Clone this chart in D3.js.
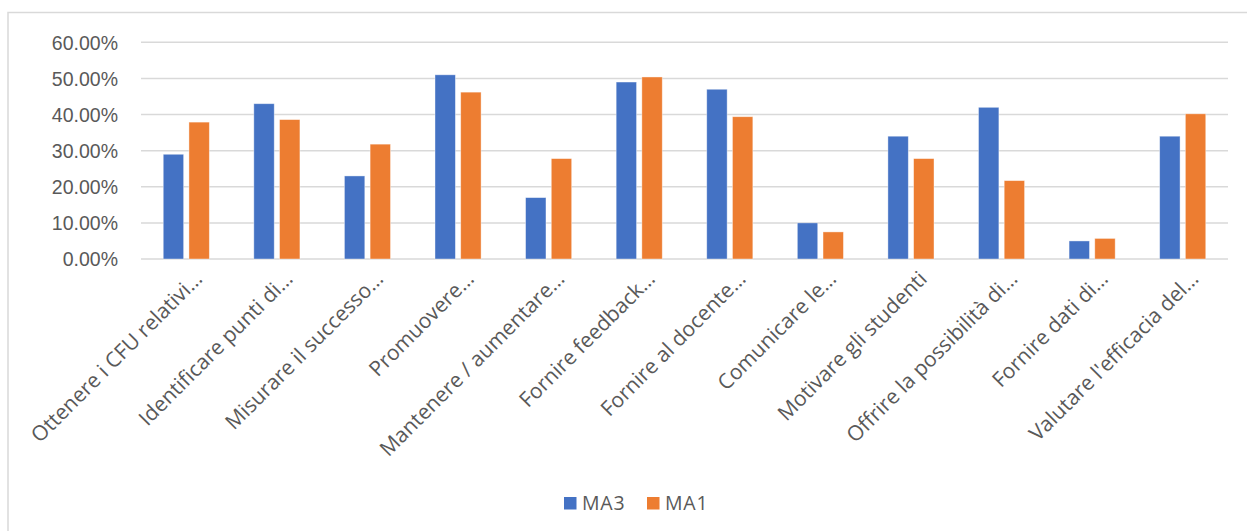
<!DOCTYPE html>
<html>
<head>
<meta charset="utf-8">
<script src="https://cdn.jsdelivr.net/npm/d3@7"></script>
<style>
  html, body { margin: 0; padding: 0; background: #fff; }
  svg { display: block; font-family: "Open Sans", "Noto Sans", sans-serif; }
</style>
</head>
<body>
<svg id="chart" width="1247" height="531"></svg>
<script>
// Category labels (already shortened with an ellipsis as shown on the axis)
const categories = [
  "Ottenere i CFU relativi…",
  "Identificare punti di…",
  "Misurare il successo…",
  "Promuovere…",
  "Mantenere / aumentare…",
  "Fornire feedback…",
  "Fornire al docente…",
  "Comunicare le…",
  "Motivare gli studenti",
  "Offrire la possibilità di…",
  "Fornire dati di…",
  "Valutare l'efficacia del…"
];

const seriesNames = ["MA3", "MA1"];
const ma3 = [0.29, 0.43, 0.23, 0.51, 0.17, 0.49, 0.47, 0.10, 0.34, 0.42, 0.05, 0.34];
const ma1 = [0.379, 0.386, 0.318, 0.462, 0.278, 0.504, 0.394, 0.075, 0.278, 0.217, 0.057, 0.402];
const yTicks = [0, 0.1, 0.2, 0.3, 0.4, 0.5, 0.6];
const colors = ["#4472C4", "#ED7D31"];

const svg = d3.select("#chart");

// outer chart frame
svg.append("rect")
  .attr("x", 8).attr("y", 12.5)
  .attr("width", 1260).attr("height", 540)
  .attr("fill", "none").attr("stroke", "#d9d9d9").attr("stroke-width", 1.5);

const plot = { left: 141, right: 1228, top: 42.3, bottom: 259 };

const x = d3.scaleBand().domain(categories).range([plot.left, plot.right]);
const y = d3.scaleLinear().domain([0, 0.6]).range([plot.bottom, plot.top]);

// horizontal gridlines
svg.append("g").selectAll("line").data(yTicks).join("line")
  .attr("x1", plot.left).attr("x2", plot.right)
  .attr("y1", d => y(d)).attr("y2", d => y(d))
  .attr("stroke", "#d9d9d9").attr("stroke-width", 1.5);

// y axis labels
const yAxis = d3.axisLeft(y).tickValues(yTicks).tickFormat(d3.format(".2%")).tickSize(0).tickPadding(0);
const yg = svg.append("g").attr("transform", `translate(118,0)`).call(yAxis);
yg.select(".domain").remove();
yg.selectAll("text")
  .attr("fill", "#595959")
  .style("font-size", "19.5px")
  .attr("dy", "0.35em");

// grouped bars
const barW = 20.4, gap = 5.3;
const data = [ma3, ma1];
data.forEach((vals, s) => {
  svg.append("g").selectAll("rect").data(vals).join("rect")
    .attr("x", (d, i) => x(categories[i]) + x.bandwidth() / 2 - (barW + gap / 2) + s * (barW + gap))
    .attr("y", d => y(d))
    .attr("width", barW)
    .attr("height", d => y(0) - y(d))
    .attr("fill", colors[s])
    .attr("stroke", "#ffffff").attr("stroke-opacity", 0.5).attr("stroke-width", 0.8);
});

// rotated category labels
svg.append("g").selectAll("text").data(categories).join("text")
  .attr("transform", d => `translate(${x(d) + x.bandwidth() / 2 + 12},${275}) rotate(-45)`)
  .attr("text-anchor", "end")
  .attr("dy", "0.35em")
  .attr("fill", "#595959")
  .style("font-size", "21px")
  .text(d => d);

// legend
const legendX = [564, 647];
const lg = svg.append("g");
seriesNames.forEach((name, i) => {
  lg.append("rect")
    .attr("x", legendX[i]).attr("y", 497)
    .attr("width", 12.5).attr("height", 12.5)
    .attr("fill", colors[i]);
  lg.append("text")
    .attr("x", legendX[i] + 18).attr("y", 503.5)
    .attr("dy", "0.35em")
    .attr("fill", "#595959")
    .style("font-size", "19.5px")
    .style("letter-spacing", "0.8px")
    .text(name);
});
</script>
</body>
</html>
